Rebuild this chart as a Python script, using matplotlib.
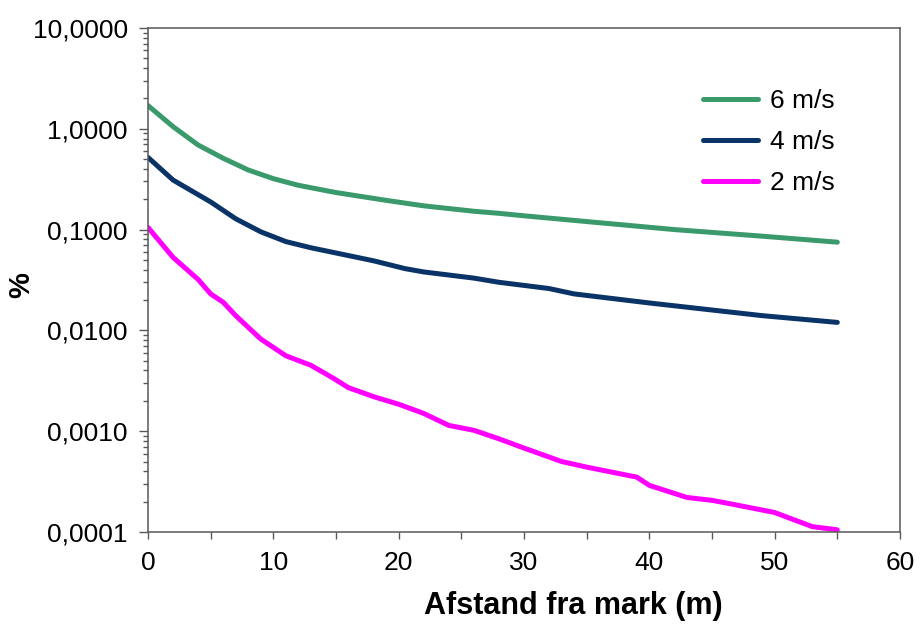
import matplotlib
matplotlib.use('Agg')
import matplotlib.pyplot as plt
from matplotlib.ticker import MultipleLocator, LogLocator, NullFormatter

plt.rcParams['font.family'] = ['Liberation Sans', 'DejaVu Sans']

# Data
x_6 = [0, 2, 4, 6, 8, 10, 12, 15, 19, 22, 26, 28, 30, 36, 42, 49, 55]
y_6 = [1.70, 1.05, 0.69, 0.51, 0.39, 0.32, 0.275, 0.233, 0.195, 0.172,
       0.152, 0.145, 0.137, 0.117, 0.100, 0.086, 0.075]

x_4 = [0, 2, 5, 7, 9, 11, 13, 18, 20.5, 22, 26, 28, 32, 34, 40, 49, 55]
y_4 = [0.52, 0.31, 0.188, 0.128, 0.095, 0.076, 0.066, 0.049, 0.041, 0.038,
       0.033, 0.030, 0.026, 0.023, 0.0187, 0.014, 0.012]

x_2 = [0, 2, 4, 5, 6, 7, 8, 9, 11, 13, 14.7, 16, 18, 20, 22, 24, 26, 28, 30,
       33, 35, 39, 40, 43, 45, 46.5, 50, 51, 53, 55]
y_2 = [0.105, 0.053, 0.032, 0.023, 0.019, 0.014, 0.0107, 0.0082, 0.0056,
       0.0045, 0.0034, 0.0027, 0.0022, 0.00185, 0.0015, 0.00114, 0.00102,
       0.00084, 0.00068, 0.0005, 0.00044, 0.00035, 0.00029, 0.00022,
       0.000206, 0.00019, 0.000156, 0.00014, 0.000113, 0.000105]

labels = ['6 m/s', '4 m/s', '2 m/s']
colors = ['#3a9a6c', '#0a3467', '#ff00ff']

y_ticks = [0.0001, 0.001, 0.01, 0.1, 1, 10]
y_ticklabels = ['0,0001', '0,0010', '0,0100', '0,1000', '1,0000', '10,0000']

fig = plt.figure(figsize=(9.21, 6.26), dpi=100)
ax = fig.add_axes([0.1607, 0.1502, 0.8165, 0.8051])

for xs, ys, lab, col in zip([x_6, x_4, x_2], [y_6, y_4, y_2], labels, colors):
    ax.plot(xs, ys, color=col, linewidth=3.6, label=lab,
            solid_capstyle='round', solid_joinstyle='round')

ax.set_yscale('log')
ax.set_xlim(0, 60)
ax.set_ylim(0.0001, 10)

ax.set_yticks(y_ticks)
ax.set_yticklabels(y_ticklabels)
ax.yaxis.set_minor_locator(LogLocator(base=10, subs=range(2, 10)))
ax.yaxis.set_minor_formatter(NullFormatter())
ax.xaxis.set_major_locator(MultipleLocator(10))
ax.xaxis.set_minor_locator(MultipleLocator(5))

for s in ax.spines.values():
    s.set_color('#595959')
    s.set_linewidth(1.1)

ax.tick_params(axis='y', which='major', direction='out', length=6.5, width=1,
               color='#595959', labelsize=19, pad=8)
ax.tick_params(axis='y', which='minor', direction='out', length=3.6, width=1,
               color='#595959')
ax.tick_params(axis='x', which='both', direction='out', length=5, width=1,
               color='#595959', labelsize=19, pad=9)

ax.set_xlabel('Afstand fra mark (m)', fontsize=22, fontweight='bold')
ax.xaxis.set_label_coords(0.566, -0.118)
ax.set_ylabel('%', fontsize=21, fontweight='bold')
ax.yaxis.set_label_coords(-0.150, 0.49)

ax.legend(loc='upper left', bbox_to_anchor=(0.738, 0.879), frameon=False,
          fontsize=19, handlelength=2.1, handletextpad=0.45, labelspacing=0.64,
          borderpad=0, borderaxespad=0)

fig.savefig('out.png', dpi=100)
